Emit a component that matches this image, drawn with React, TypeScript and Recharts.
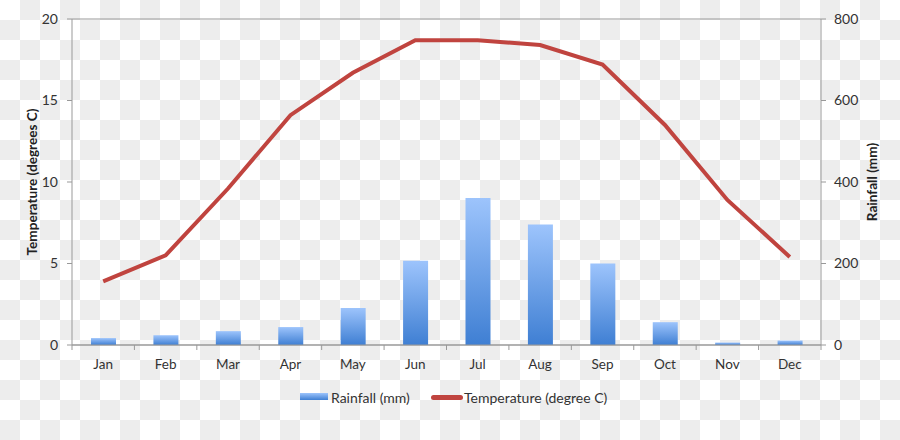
import React from "react";
import {
  ComposedChart,
  Bar,
  Line,
  XAxis,
  YAxis,
  CartesianGrid,
} from "recharts";

const months = ["Jan", "Feb", "Mar", "Apr", "May", "Jun", "Jul", "Aug", "Sep", "Oct", "Nov", "Dec"];
const rainfall = [17, 24, 34, 44, 91, 207, 361, 296, 200, 56, 6, 11];
const temperature = [3.9, 5.5, 9.6, 14.1, 16.7, 18.7, 18.7, 18.4, 17.2, 13.5, 8.9, 5.4];
const tempTicks = [0, 5, 10, 15, 20];
const rainTicks = [0, 200, 400, 600, 800];

const data = months.map((m, i) => ({ month: m, rain: rainfall[i], temp: temperature[i] }));

const FONT = "Lato, 'Open Sans', sans-serif";
const AXIS = "#999999";
const TXT = "#333333";
const RED = "#c0443f";

const XTick = (props: any) => {
  const { x, y, payload, index } = props;
  const bw = 749 / 12;
  return (
    <g>
      <line x1={x - bw / 2} x2={x - bw / 2} y1={y} y2={y + 5} stroke={AXIS} strokeWidth={1} />
      {index === 11 && (
        <line x1={x + bw / 2} x2={x + bw / 2} y1={y} y2={y + 5} stroke={AXIS} strokeWidth={1} />
      )}
      <text x={x} y={y + 24} textAnchor="middle" fontFamily={FONT} fontSize={13.5} fill={TXT}>
        {payload.value}
      </text>
    </g>
  );
};

const LeftLabel = (props: any) => {
  const vb = props.viewBox || { x: 0, y: 19, width: 72, height: 326 };
  const cx = vb.x + 32;
  const cy = vb.y + vb.height / 2;
  return (
    <text
      x={cx}
      y={cy}
      transform={`rotate(-90 ${cx} ${cy})`}
      textAnchor="middle"
      dominantBaseline="central"
      fontFamily={FONT}
      fontWeight="bold"
      fontSize={13.6}
      fill="#222"
    >
      Temperature (degrees C)
    </text>
  );
};

const RightLabel = (props: any) => {
  const vb = props.viewBox || { x: 821, y: 19, width: 79, height: 326 };
  const cx = vb.x + 51;
  const cy = vb.y + vb.height / 2;
  return (
    <text
      x={cx}
      y={cy}
      transform={`rotate(-90 ${cx} ${cy})`}
      textAnchor="middle"
      dominantBaseline="central"
      fontFamily={FONT}
      fontWeight="bold"
      fontSize={13.6}
      fill="#222"
    >
      Rainfall (mm)
    </text>
  );
};

export default function App() {
  return (
    <div
      style={{
        position: "absolute",
        left: 0,
        top: 0,
        width: 900,
        height: 440,
        backgroundColor: "#ffffff",
        backgroundImage: "repeating-conic-gradient(#ededed 0% 25%, #ffffff 0% 50%)",
        backgroundSize: "40px 40px",
        backgroundPosition: "0 0",
        overflow: "hidden",
      }}
    >
      <ComposedChart
        width={900}
        height={440}
        data={data}
        margin={{ top: 19, right: 0, left: 0, bottom: 0 }}
      >
        <defs>
          <linearGradient id="rainGrad" x1="0" y1="0" x2="0" y2="1">
            <stop offset="0%" stopColor="#9dc4fc" />
            <stop offset="100%" stopColor="#3f7fd3" />
          </linearGradient>
        </defs>
        <CartesianGrid vertical={false} stroke={AXIS} strokeWidth={1} />
        <XAxis
          dataKey="month"
          height={95}
          stroke={AXIS}
          tickLine={false}
          tickSize={0}
          tickMargin={0}
          tick={<XTick />}
          interval={0}
        />
        <YAxis
          yAxisId="left"
          orientation="left"
          width={72}
          domain={[0, 20]}
          ticks={tempTicks}
          stroke={AXIS}
          tickSize={5}
          tickMargin={9}
          tick={{ fontFamily: FONT, fontSize: 14, fill: TXT }}
          label={<LeftLabel />}
        />
        <YAxis
          yAxisId="right"
          orientation="right"
          width={79}
          domain={[0, 800]}
          ticks={rainTicks}
          stroke={AXIS}
          tickSize={5}
          tickMargin={8}
          tick={{ fontFamily: FONT, fontSize: 14, fill: TXT }}
          label={<RightLabel />}
        />
        <Bar
          yAxisId="right"
          dataKey="rain"
          name="Rainfall (mm)"
          fill="url(#rainGrad)"
          barSize={25}
          isAnimationActive={false}
        />
        <Line
          yAxisId="left"
          dataKey="temp"
          name="Temperature (degree C)"
          type="linear"
          stroke={RED}
          strokeWidth={4}
          dot={false}
          activeDot={false}
          isAnimationActive={false}
        />
      </ComposedChart>
      <div
        style={{
          position: "absolute",
          left: 300,
          top: 393,
          width: 28,
          height: 7,
          background: "linear-gradient(#9dc4fc, #3f7fd3)",
        }}
      />
      <div
        style={{
          position: "absolute",
          left: 331,
          top: 388,
          fontFamily: FONT,
          fontSize: 14,
          color: TXT,
          lineHeight: "19px",
          whiteSpace: "nowrap",
        }}
      >
        Rainfall (mm)
      </div>
      <div
        style={{
          position: "absolute",
          left: 431,
          top: 395,
          width: 32,
          height: 5,
          borderRadius: 3,
          background: RED,
        }}
      />
      <div
        style={{
          position: "absolute",
          left: 464,
          top: 388,
          fontFamily: FONT,
          fontSize: 14,
          color: TXT,
          lineHeight: "19px",
          whiteSpace: "nowrap",
        }}
      >
        Temperature (degree C)
      </div>
    </div>
  );
}
